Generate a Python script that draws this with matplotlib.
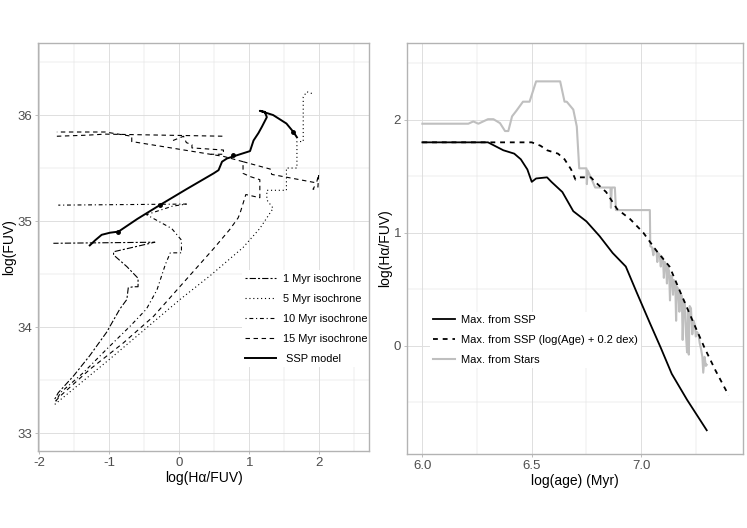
import matplotlib
matplotlib.use("Agg")
import matplotlib.pyplot as plt

plt.rcParams['font.family'] = ['Liberation Sans', 'DejaVu Sans']
plt.rcParams['lines.scale_dashes'] = False
plt.rcParams['axes.unicode_minus'] = False

# ---------------- left panel: isochrones and SSP track ----------------
# 1 Myr isochrone
iso1_x = [-1.78, -1.73, -1.51, -1.28, -1.04, -0.85, -0.75, -0.73, -0.66, -0.59, -0.59,
          -0.75, -0.94, -0.94, -0.35, -1.80]
iso1_y = [33.32, 33.38, 33.54, 33.73, 33.95, 34.17, 34.26, 34.37, 34.38, 34.38, 34.46,
          34.57, 34.68, 34.71, 34.80, 34.79]

# 5 Myr isochrone
iso5_x = [-1.78, -0.99, 0.01, 0.45, 0.91, 1.15, 1.34, 1.25, 1.25, 1.53, 1.53, 1.68,
          1.68, 1.77, 1.77, 1.82, 1.91]
iso5_y = [33.27, 33.70, 34.26, 34.49, 34.75, 34.93, 35.12, 35.20, 35.29, 35.29, 35.50,
          35.50, 35.75, 35.75, 36.17, 36.22, 36.20]

# 10 Myr isochrone
iso10_x = [-1.76, -1.70, -1.37, -1.04, -0.70, -0.47, -0.32, -0.20, -0.13, 0.03, 0.03,
           -0.11, -0.47, -0.10, 0.10, -1.73]
iso10_y = [33.30, 33.38, 33.57, 33.79, 34.01, 34.17, 34.35, 34.59, 34.70, 34.70, 34.82,
           34.93, 35.06, 35.14, 35.16, 35.15]

# 15 Myr isochrone (drawn in pieces)
iso15_x = [-1.77, -1.70, -1.28, -0.80, -0.37, 0.06, 0.49, 0.72, 0.84, 0.87, 0.95, 1.15,
           1.15, 1.01, 0.91, 0.91, 1.30, 1.32, 1.96, 1.99, 1.98, 1.91, 1.95]
iso15_y = [33.30, 33.35, 33.60, 33.85, 34.10, 34.42, 34.74, 34.92, 35.03, 35.08, 35.25,
           35.22, 35.39, 35.42, 35.45, 35.56, 35.49, 35.44, 35.36, 35.44, 35.32, 35.30, 35.35]
iso15_top_x = [0.91, 0.63, -0.68, -0.68, -1.06, -1.75]
iso15_top_y = [35.56, 35.61, 35.75, 35.80, 35.84, 35.84]
iso15_flat_x = [-1.75, -1.32, -1.06, 0.65]
iso15_flat_y = [35.80, 35.81, 35.82, 35.80]
iso15_zig_x = [-0.09, 0.06, 0.10, 0.18, 0.18, 0.63, 0.63, 0.45]
iso15_zig_y = [35.76, 35.80, 35.74, 35.72, 35.69, 35.67, 35.63, 35.63]

# SSP model
ssp_x = [-1.28, -1.20, -1.11, -0.99, -0.87, -0.60, -0.28, 0.10, 0.49, 0.56, 0.61, 0.68,
         0.82, 1.01, 1.06, 1.13, 1.18, 1.25, 1.22, 1.15, 1.34, 1.53, 1.63, 1.68]
ssp_y = [34.77, 34.82, 34.87, 34.89, 34.90, 35.02, 35.15, 35.30, 35.45, 35.48, 35.56, 35.59,
         35.62, 35.66, 35.76, 35.83, 35.89, 35.98, 36.03, 36.04, 36.00, 35.92, 35.84, 35.79]
ssp_pts_x = [-0.87, -0.28, 0.77, 1.63]
ssp_pts_y = [34.90, 35.15, 35.62, 35.84]

# ---------------- right panel: max Halpha/FUV vs age ----------------
ssp_age = [6.00, 6.30, 6.34, 6.37, 6.42, 6.45, 6.48, 6.50, 6.52, 6.57, 6.59, 6.64, 6.69,
           6.75, 6.81, 6.87, 6.93, 6.98, 7.04, 7.09, 7.14, 7.21, 7.25, 7.30]
ssp_max = [1.80, 1.80, 1.76, 1.73, 1.70, 1.65, 1.56, 1.45, 1.48, 1.49, 1.45, 1.36, 1.19,
           1.10, 0.97, 0.82, 0.70, 0.47, 0.20, -0.02, -0.25, -0.48, -0.60, -0.75]

ssp02_age = [6.00, 6.50, 6.54, 6.57, 6.62, 6.65, 6.68, 6.70, 6.72, 6.77, 6.79, 6.84, 6.89,
             6.95, 7.01, 7.07, 7.13, 7.18, 7.24, 7.29, 7.34, 7.40]
ssp02_max = [1.80, 1.80, 1.77, 1.73, 1.70, 1.65, 1.56, 1.47, 1.49, 1.49, 1.45, 1.36, 1.21,
             1.12, 1.00, 0.84, 0.70, 0.47, 0.20, -0.02, -0.22, -0.44]

stars_age = [6.00, 6.21, 6.233, 6.256, 6.30, 6.325, 6.355, 6.378, 6.393, 6.41, 6.43, 6.46,
             6.49, 6.52, 6.63, 6.65, 6.66, 6.69, 6.706, 6.717, 6.75, 6.752, 6.756, 6.77,
             6.79, 6.86, 6.862, 6.866, 6.88, 6.885, 7.04, 7.042,
             7.050, 7.056, 7.060, 7.070, 7.074, 7.078, 7.085, 7.090, 7.094, 7.100, 7.104,
             7.108, 7.114, 7.118, 7.122, 7.128, 7.132, 7.136, 7.142, 7.146, 7.150, 7.156,
             7.160, 7.164, 7.170, 7.175, 7.180, 7.186, 7.190, 7.195, 7.200, 7.205, 7.210,
             7.214, 7.218, 7.222, 7.228, 7.234, 7.240, 7.246, 7.250, 7.256, 7.262, 7.268,
             7.274, 7.280, 7.284, 7.290, 7.296, 7.300]
stars_max = [1.965, 1.965, 1.985, 1.965, 2.005, 2.005, 1.97, 1.90, 1.90, 2.03, 2.08, 2.16,
             2.16, 2.34, 2.34, 2.16, 2.16, 2.09, 1.94, 1.57, 1.57, 1.43, 1.55, 1.49,
             1.40, 1.40, 1.22, 1.40, 1.40, 1.20, 1.20, 0.88,
             0.87, 0.80, 0.86, 0.84, 0.74, 0.82, 0.80, 0.70, 0.79, 0.77, 0.60,
             0.74, 0.72, 0.55, 0.70, 0.66, 0.40, 0.62, 0.60, 0.45, 0.58, 0.56,
             0.22, 0.52, 0.50, 0.30, 0.46, 0.44, 0.05, 0.40, 0.38, 0.10, -0.06,
             0.30, -0.08, 0.35, 0.33, 0.10, 0.22, 0.18, 0.08, 0.12, 0.10, 0.02,
             -0.03, -0.10, -0.24, -0.10, -0.18, -0.17]

TXT = "#4D4D4D"
BORDER = "#B3B3B3"
GRID = "#DEDEDE"


def style_axes(ax, xmaj, xmin, ymaj, ymin):
    ax.set_xticks(xmaj)
    ax.set_xticks(xmin, minor=True)
    ax.set_yticks(ymaj)
    ax.set_yticks(ymin, minor=True)
    ax.grid(True, which='major', color=GRID, linewidth=0.7)
    ax.grid(True, which='minor', color=GRID, linewidth=0.35)
    ax.set_axisbelow(True)
    ax.tick_params(which='major', length=2.5, width=0.6, color=BORDER,
                   labelsize=9.5, labelcolor=TXT, pad=2)
    ax.tick_params(which='minor', length=0)
    for s in ax.spines.values():
        s.set_color(BORDER)
        s.set_linewidth(1.0)


fig = plt.figure(figsize=(7.47, 5.28), dpi=100)

# left panel
ax1 = fig.add_axes([0.0513, 0.1458, 0.4427, 0.7728])
lw = 0.8
ax1.plot(iso1_x, iso1_y, color='black', lw=lw, dashes=(1.5, 1.5, 4.5, 1.5), label='1 Myr isochrone')
ax1.plot(iso5_x, iso5_y, color='black', lw=lw, dashes=(0.8, 2.0), label='5 Myr isochrone')
ax1.plot(iso10_x, iso10_y, color='black', lw=lw, dashes=(0.8, 2.0, 2.8, 2.0), label='10 Myr isochrone')
ax1.plot(iso15_x, iso15_y, color='black', lw=lw, dashes=(3.2, 2.6), label='15 Myr isochrone')
ax1.plot(iso15_top_x, iso15_top_y, color='black', lw=lw, dashes=(3.2, 2.6))
ax1.plot(iso15_flat_x, iso15_flat_y, color='black', lw=lw, dashes=(3.2, 2.6))
ax1.plot(iso15_zig_x, iso15_zig_y, color='black', lw=lw, dashes=(3.2, 2.6))
ax1.plot(ssp_x, ssp_y, color='black', lw=1.4, label=' SSP model')
ax1.plot(ssp_pts_x, ssp_pts_y, 'o', color='black', ms=2.5)
ax1.set_xlim(-2.015, 2.71)
ax1.set_ylim(32.83, 36.68)
style_axes(ax1, [-2, -1, 0, 1, 2], [-1.5, -0.5, 0.5, 1.5, 2.5],
           [33, 34, 35, 36], [33.5, 34.5, 35.5, 36.5])
ax1.set_xlabel('log(Hα/FUV)', fontsize=10, labelpad=1)
ax1.set_ylabel('log(FUV)', fontsize=10, labelpad=1)
leg1 = ax1.legend(loc='upper left', bbox_to_anchor=(0.598, 0.456), fontsize=7.9,
                  handlelength=2.85, handletextpad=0.6, labelspacing=0.92,
                  frameon=True, fancybox=False, framealpha=1, borderpad=0.3)
leg1.get_frame().set_edgecolor('none')
leg1.set_zorder(2.4)

# right panel
ax2 = fig.add_axes([0.5452, 0.1402, 0.4498, 0.7784])
ax2.plot(stars_age, stars_max, color='#BFBFBF', lw=1.5, label='Max. from Stars', zorder=2)
ax2.plot(ssp_age, ssp_max, color='black', lw=1.3, label='Max. from SSP', zorder=3)
ax2.plot(ssp02_age, ssp02_max, color='black', lw=1.3, dashes=(3.5, 3.5),
         label='Max. from SSP (log(Age) + 0.2 dex)', zorder=4)
ax2.set_xlim(5.931, 7.467)
ax2.set_ylim(-0.96, 2.68)
style_axes(ax2, [6.0, 6.5, 7.0], [6.25, 6.75, 7.25], [0, 1, 2], [-0.5, 0.5, 1.5, 2.5])
ax2.set_xticklabels(['6.0', '6.5', '7.0'])
ax2.set_xlabel('log(age) (Myr)', fontsize=10, labelpad=1)
ax2.set_ylabel('log(Hα/FUV)', fontsize=10, labelpad=1)
h, l = ax2.get_legend_handles_labels()
leg2 = ax2.legend([h[1], h[2], h[0]], [l[1], l[2], l[0]], loc='upper left',
                  bbox_to_anchor=(0.05, 0.36), fontsize=8,
                  handlelength=2.0, handletextpad=0.5, labelspacing=0.9,
                  frameon=True, fancybox=False, framealpha=1, borderpad=0.3)
leg2.get_frame().set_edgecolor('none')

fig.savefig('out.png', dpi=100)
